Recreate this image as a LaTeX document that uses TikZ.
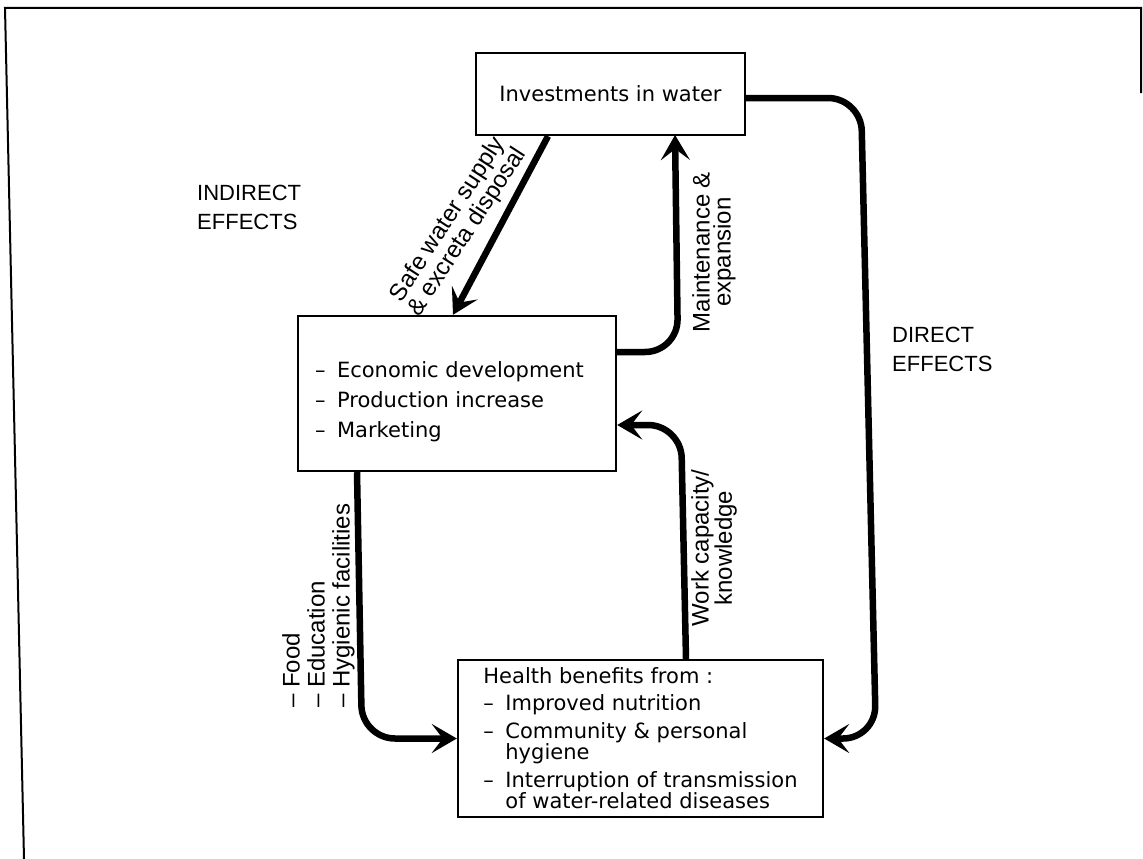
\documentclass[tikz,border=0pt]{standalone}
\usepackage{fontspec}
\setmainfont{DejaVu Sans}
\newfontfamily\lblfont{Liberation Sans}
\usetikzlibrary{arrows.meta}
\newcommand\lstdash{\makebox[22pt][l]{–}}
\begin{document}
\begin{tikzpicture}[x=1pt,y=-1pt,
  box/.style={draw, line width=2.4pt, inner sep=0pt, font=\fontsize{21}{20}\selectfont},
  conn/.style={line width=6.5pt, rounded corners=33pt, -{Stealth[length=25pt,width=29pt,inset=11pt]}},
  lbl/.style={inner sep=0pt, font=\lblfont\fontsize{24}{21}\selectfont, align=center},
  sidetext/.style={inner sep=0pt, font=\lblfont\fontsize{22}{29}\selectfont, align=left},
  frame/.style={line width=2pt}]
\useasboundingbox (0,0) rectangle (1143,859);
\draw[frame] (24,859) -- (5,8) -- (1141,8) -- (1141,93);

\node[box, minimum width=269pt, minimum height=82pt] (inv) at (610.5,94) {Investments in water};
\node[box, minimum width=318pt, minimum height=155pt, align=left, font=\fontsize{21}{30}\selectfont] (eco) at (457,393.5)
  {\rule{0pt}{33pt}\lstdash Economic development\rule{15pt}{0pt}\\\lstdash Production increase\\\lstdash Marketing};
\node[box, minimum width=365pt, minimum height=157pt, align=left] (hl) at (640.5,738.5)
  {Health benefits from :\\[7pt]\lstdash Improved nutrition\\[6pt]\lstdash Community \& personal\\\hspace*{22pt}hygiene\\[7pt]\lstdash Interruption of transmission\\\hspace*{22pt}of water-related diseases};

\coordinate (m1) at (678,352);
\coordinate (m2) at (675,135);
\coordinate (w1) at (681,425);
\coordinate (h1) at (362,738.5);
\coordinate (d1) at (861,98);
\coordinate (d2) at (876,738.5);

\draw[conn] ([xshift=-62.5pt]inv.south) -- ([xshift=-4pt]eco.north);
\draw[conn] ([yshift=41.5pt]eco.east) -- (m1) -- (m2);
\draw[conn] ([xshift=45.5pt]hl.north) -- (w1) -- ([yshift=-31.5pt]eco.east);
\draw[conn] ([xshift=-100pt]eco.south) -- (h1) -- (hl.west);
\draw[conn] ([yshift=-4pt]inv.east) -- (d1) -- (d2) -- (hl.east);

\node[lbl, rotate=57, font=\lblfont\fontsize{24}{22}\selectfont] (safe) at (458,226) {Safe water supply\\\& excreta disposal};
\node[lbl, rotate=90] (maint) at (714,252) {Maintenance \&\\expansion};
\node[lbl, rotate=90] (work) at (714,548) {Work capacity/\\knowledge};
\node[lbl, rotate=90, align=left, font=\lblfont\fontsize{24}{25}\selectfont, anchor=north west] (food) at (282,708)
  {– Food\\– Education\\– Hygienic facilities};
\node[sidetext, anchor=west] (ind) at (197,207.5) {INDIRECT\\EFFECTS};
\node[sidetext, anchor=west] (dir) at (892,349) {DIRECT\\EFFECTS};
\end{tikzpicture}
\end{document}
